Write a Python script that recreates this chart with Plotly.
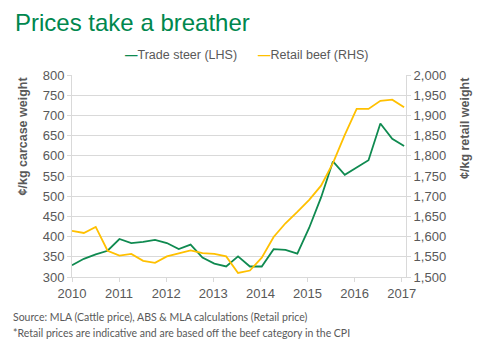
import plotly.graph_objects as go

# Quarterly observations, Q1 2010 .. Q1 2017
n_points = 29
quarter_step = 0.2518
periods = [2010 + i * quarter_step for i in range(n_points)]

trade_steer = [329, 345, 356, 365, 394, 384, 387, 392, 384, 369, 380, 348, 333, 326, 351, 326,
               326, 369, 367, 358, 422, 497, 586, 553, 571, 589, 680, 642, 624]
retail_beef = [1614, 1609, 1624, 1565, 1553, 1557, 1540, 1535, 1551, 1559, 1566, 1559, 1557, 1551, 1510, 1516,
               1548, 1599, 1633, 1661, 1691, 1726, 1782, 1852, 1916, 1916, 1936, 1939, 1920]

year_ticks = [2010, 2011, 2012, 2013, 2014, 2015, 2016, 2017]
left_ticks = [300, 350, 400, 450, 500, 550, 600, 650, 700, 750, 800]
right_ticks = [1500, 1550, 1600, 1650, 1700, 1750, 1800, 1850, 1900, 1950, 2000]

GREEN = "#0F8A50"
GOLD = "#FFC000"
TEXT = "#595959"
GRID = "#D9D9D9"
FONT = "Liberation Sans, Arial, sans-serif"

fig = go.Figure()
fig.add_trace(go.Scatter(x=periods, y=trade_steer, mode="lines", name="Trade steer (LHS)",
                         line=dict(color=GREEN, width=1.8), yaxis="y", showlegend=False))
fig.add_trace(go.Scatter(x=periods, y=retail_beef, mode="lines", name="Retail beef (RHS)",
                         line=dict(color=GOLD, width=1.8), yaxis="y2", showlegend=False))

fig.update_layout(
    width=500, height=345,
    margin=dict(l=72, r=94, t=75, b=68),
    paper_bgcolor="white", plot_bgcolor="white",
    font=dict(family=FONT, color=TEXT, size=13),
    title=dict(text="Prices take a breather", x=15 / 500, xref="container", xanchor="left",
               y=1 - 23 / 345, yref="container", yanchor="middle",
               font=dict(family=FONT, size=24, color="#00874E")),
    xaxis=dict(range=[2010, 2017.091], tickvals=year_ticks, ticktext=[str(y) for y in year_ticks],
               showgrid=False, showline=True, linecolor=GRID, linewidth=1,
               ticks="outside", ticklen=4, tickcolor=GRID, zeroline=False,
               tickfont=dict(size=13, color=TEXT)),
    yaxis=dict(range=[300, 800], tickvals=left_ticks, showgrid=True, gridcolor=GRID, gridwidth=1,
               showline=True, linecolor=GRID, ticks="outside", ticklen=4, tickcolor=GRID,
               zeroline=False, tickfont=dict(size=13, color=TEXT)),
    yaxis2=dict(range=[1500, 2000], tickvals=right_ticks, tickformat=",", overlaying="y", side="right",
                showgrid=False, showline=True, linecolor=GRID, ticks="outside", ticklen=4,
                tickcolor=GRID, zeroline=False, tickfont=dict(size=13, color=TEXT)),
)

# axis titles
fig.add_annotation(text="<b>¢/kg carcase weight</b>", textangle=-90, xref="paper", yref="paper",
                   x=(22 - 72) / 334, y=1, xanchor="center", yanchor="top", showarrow=False,
                   font=dict(family=FONT, size=12.5, color=TEXT))
fig.add_annotation(text="<b>¢/kg retail weight</b>", textangle=-90, xref="paper", yref="paper",
                   x=(465 - 72) / 334, y=1, xanchor="center", yanchor="top", showarrow=False,
                   font=dict(family=FONT, size=12.5, color=TEXT))

# legend (as text entries)
fig.add_annotation(text=f"<span style='color:{GREEN}'><b>—</b></span>Trade steer (LHS)",
                   xref="paper", yref="paper", x=(123 - 72) / 334, y=1 + 20 / 202,
                   xanchor="left", yanchor="middle", showarrow=False,
                   font=dict(family=FONT, size=12.5, color=TEXT))
fig.add_annotation(text=f"<span style='color:{GOLD}'><b>—</b></span>Retail beef (RHS)",
                   xref="paper", yref="paper", x=(256 - 72) / 334, y=1 + 20 / 202,
                   xanchor="left", yanchor="middle", showarrow=False,
                   font=dict(family=FONT, size=12.5, color=TEXT))

# source notes
fig.add_annotation(text="Source: MLA (Cattle price), ABS &amp; MLA calculations (Retail price)",
                   xref="paper", yref="paper", x=(11 - 72) / 334, y=-(317 - 277) / 202,
                   xanchor="left", yanchor="middle", showarrow=False,
                   font=dict(family="Lato, sans-serif", size=10.5, color=TEXT))
fig.add_annotation(text="*Retail prices are indicative and are based off the beef category in the CPI",
                   xref="paper", yref="paper", x=(11 - 72) / 334, y=-(333 - 277) / 202,
                   xanchor="left", yanchor="middle", showarrow=False,
                   font=dict(family="Lato, sans-serif", size=10.5, color=TEXT))

fig.write_html("out.html")
